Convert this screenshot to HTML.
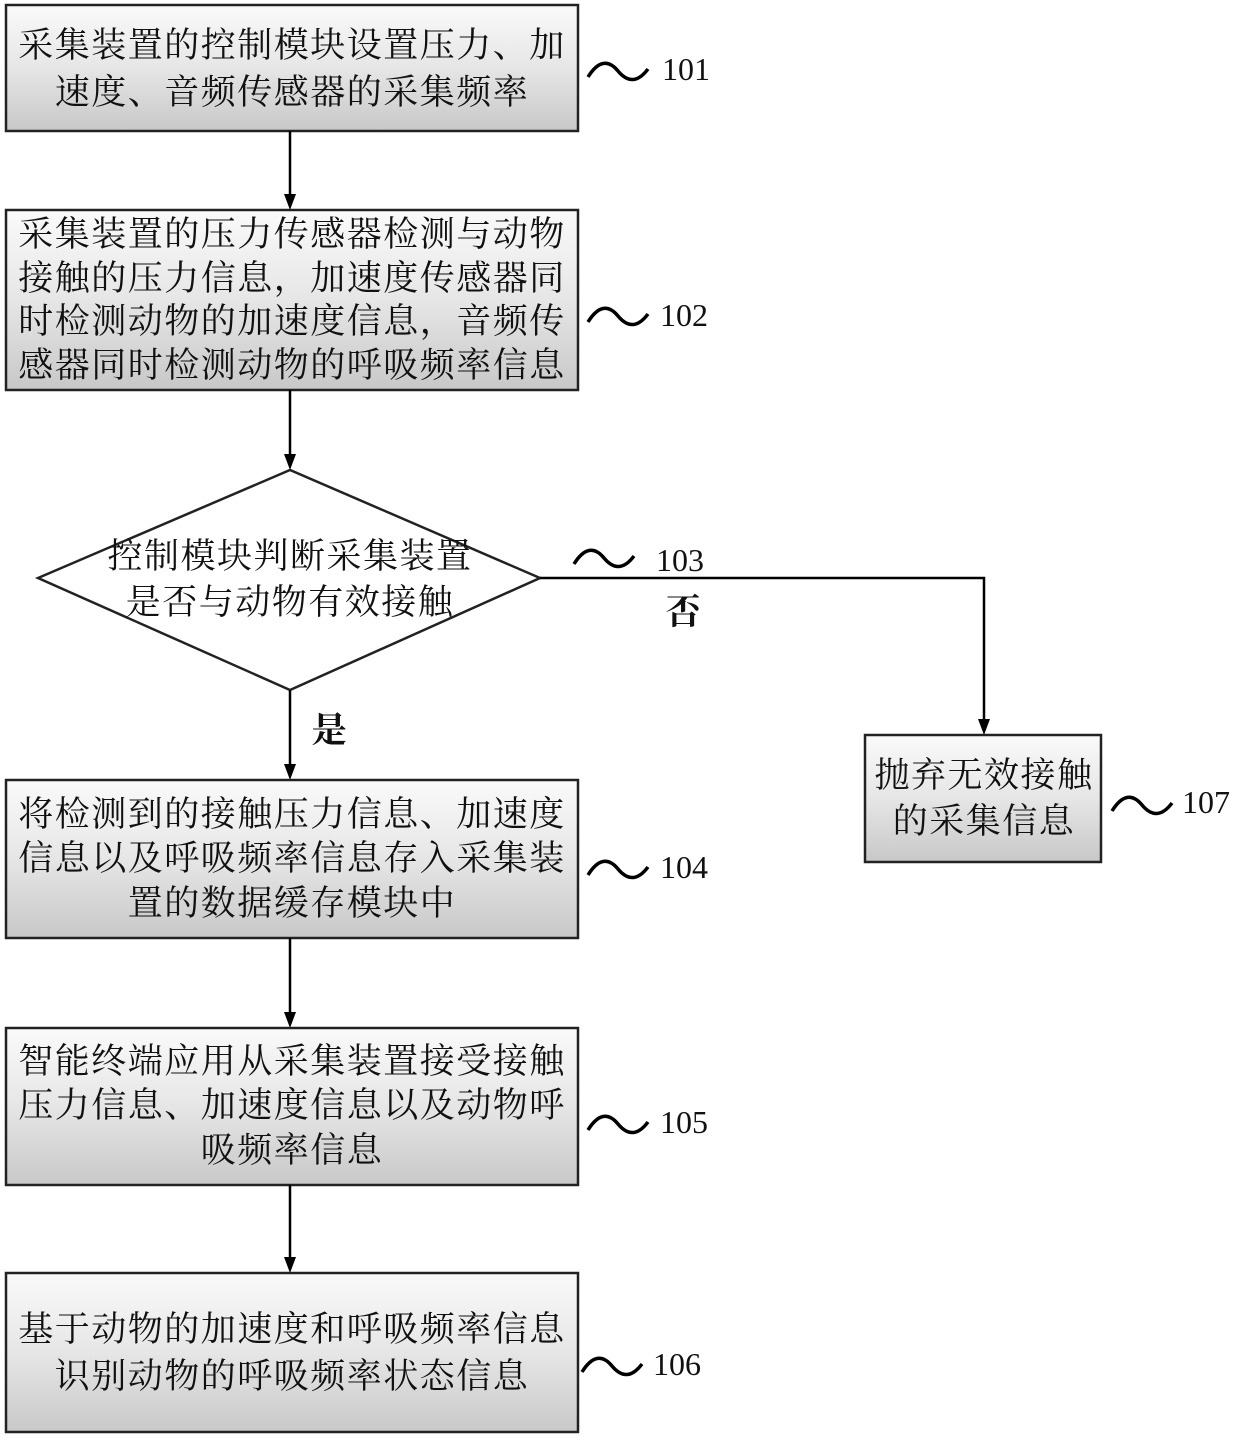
<!DOCTYPE html>
<html><head><meta charset="utf-8"><style>
html,body{margin:0;padding:0;background:#fff;}
svg text{font-family:"Liberation Serif","Noto Serif CJK SC",serif;}
.t{font-size:35px;fill:#111;text-anchor:middle;letter-spacing:1.5px;}
.n{font-size:32px;fill:#111;font-family:"Liberation Serif",serif;}
</style></head><body>
<svg width="1240" height="1443" viewBox="0 0 1240 1443" xmlns="http://www.w3.org/2000/svg">
<defs>
<linearGradient id="g" x1="0" y1="0" x2="0" y2="1">
<stop offset="0" stop-color="#fafafa"/><stop offset="0.5" stop-color="#e6e6e6"/><stop offset="1" stop-color="#c8c8c8"/>
</linearGradient>
</defs>
<g stroke="#222" stroke-width="2.5" fill="url(#g)">
<rect x="6" y="5" width="572" height="126"/>
<rect x="6" y="210" width="572" height="180"/>
<polygon points="38,578 290,470 540,578 290,690" fill="#fff"/>
<rect x="6" y="780" width="572" height="158"/>
<rect x="6" y="1028" width="572" height="157"/>
<rect x="6" y="1273" width="572" height="159"/>
<rect x="865" y="735" width="236" height="127"/>
</g>
<g stroke="#000" stroke-width="2.5" fill="none">
<line x1="290" y1="131" x2="290" y2="196"/>
<line x1="290" y1="390" x2="290" y2="456"/>
<line x1="290" y1="690" x2="290" y2="766"/>
<line x1="290" y1="938" x2="290" y2="1014"/>
<line x1="290" y1="1185" x2="290" y2="1259"/>
<polyline points="540,578 984,578 984,721"/>
</g>
<g fill="#000">
<polygon points="284,194 296,194 290,210"/>
<polygon points="284,454 296,454 290,470"/>
<polygon points="284,764 296,764 290,780"/>
<polygon points="284,1012 296,1012 290,1028"/>
<polygon points="284,1257 296,1257 290,1273"/>
<polygon points="978,719 990,719 984,735"/>
</g>
<g stroke="#000" stroke-width="3.5" fill="none">
<path d="M588,77 q15,-24 30,-6 t30,-2"/>
<path d="M588,322 q15,-24 30,-6 t30,-2"/>
<path d="M574,564 q15,-24 30,-6 t30,-2"/>
<path d="M588,875 q15,-24 30,-6 t30,-2"/>
<path d="M588,1130 q15,-24 30,-6 t30,-2"/>
<path d="M582,1372 q15,-24 30,-6 t30,-2"/>
<path d="M1112,811 q15,-24 30,-6 t30,-2"/>
</g>
<text class="n" x="662" y="80">101</text>
<text class="n" x="660" y="326">102</text>
<text class="n" x="656" y="571">103</text>
<text class="n" x="660" y="878">104</text>
<text class="n" x="660" y="1133">105</text>
<text class="n" x="653" y="1375">106</text>
<text class="n" x="1182" y="813">107</text>
<g>
<text class="t" x="292" y="57">采集装置的控制模块设置压力、加</text>
<text class="t" x="292" y="104">速度、音频传感器的采集频率</text>
<text class="t" x="292" y="246">采集装置的压力传感器检测与动物</text>
<text class="t" x="292" y="290">接触的压力信息，加速度传感器同</text>
<text class="t" x="292" y="333">时检测动物的加速度信息，音频传</text>
<text class="t" x="292" y="377">感器同时检测动物的呼吸频率信息</text>
<text class="t" x="290" y="568">控制模块判断采集装置</text>
<text class="t" x="290" y="614">是否与动物有效接触</text>
<text class="t" x="684" y="624" style="font-weight:bold">否</text>
<text class="t" x="330" y="742" style="font-weight:bold">是</text>
<text class="t" x="292" y="826">将检测到的接触压力信息、加速度</text>
<text class="t" x="292" y="870">信息以及呼吸频率信息存入采集装</text>
<text class="t" x="292" y="915">置的数据缓存模块中</text>
<text class="t" x="292" y="1073">智能终端应用从采集装置接受接触</text>
<text class="t" x="292" y="1117">压力信息、加速度信息以及动物呼</text>
<text class="t" x="292" y="1162">吸频率信息</text>
<text class="t" x="292" y="1341">基于动物的加速度和呼吸频率信息</text>
<text class="t" x="292" y="1388">识别动物的呼吸频率状态信息</text>
<text class="t" x="984" y="787">抛弃无效接触</text>
<text class="t" x="984" y="833">的采集信息</text>
</g>
</svg>
</body></html>
